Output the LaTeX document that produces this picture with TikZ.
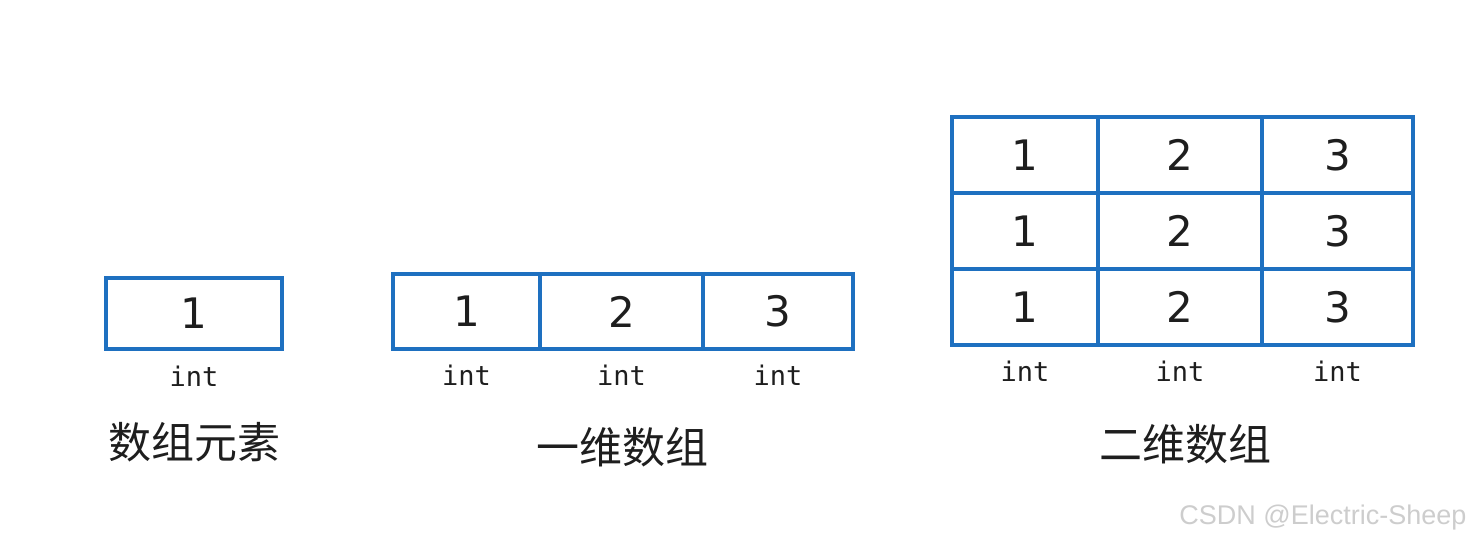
\documentclass[tikz,border=0pt]{standalone}
\usepackage{fontspec}
\setmainfont{DejaVu Sans}
\newfontfamily\cjkfont{Noto Sans CJK SC}
\newfontfamily\typefont{DejaVu Sans Mono}
\newfontfamily\markfont{Liberation Sans}
\usetikzlibrary{positioning}
\definecolor{cellblue}{RGB}{30,112,192}
\definecolor{markgray}{RGB}{205,205,205}
\definecolor{inkblack}{RGB}{30,30,30}
\tikzset{font=\small}
\tikzset{cell/.style={draw=cellblue, line width=3.2pt, outer sep=0pt, inner sep=0pt,
    minimum height=75pt, text=inkblack, font=\fontsize{42}{42}\selectfont}}
\tikzset{typ/.style={text=inkblack, font=\typefont\fontsize{27}{27}\selectfont}}
\tikzset{title/.style={text=inkblack, font=\cjkfont\fontsize{43}{43}\selectfont}}

\begin{document}
\begin{tikzpicture}[x=1pt,y=-1pt]
\useasboundingbox (0,0) rectangle (1474,544);

% array element
\node[cell, minimum width=176pt, minimum height=71pt] (elem) at (194,313.5) {1};
\node[typ, below=13pt of elem] (elemtype) {int};
\node[title] (elemname) at (194,442) {数组元素};

% one-dimensional array
\node[cell, minimum width=147pt] (a1) at (466.5,311.5) {1};
\node[cell, minimum width=163pt, right=0pt of a1] (a2) {2};
\node[cell, minimum width=150pt, right=0pt of a2] (a3) {3};
\foreach \c in {1,2,3}
  \node[typ, below=12pt of a\c] (a\c type) {int};
\node[title] (aname) at (622,447) {一维数组};

% two-dimensional array
\foreach \r/\y in {1/155,2/231,3/307}{
  \node[cell, minimum width=146pt, minimum height=76pt] (b\r1) at (1025,\y) {1};
  \node[cell, minimum width=164pt, minimum height=76pt, right=0pt of b\r1] (b\r2) {2};
  \node[cell, minimum width=151pt, minimum height=76pt, right=0pt of b\r2] (b\r3) {3};
}
\foreach \c in {1,2,3}
  \node[typ, below=12pt of b3\c] (b\c type) {int};
\node[title] (bname) at (1185,444) {二维数组};

\node[anchor=east, text=markgray, font=\markfont\fontsize{27}{27}\selectfont] (mark) at (1470,518) {CSDN @Electric-Sheep};

\end{tikzpicture}
\end{document}
